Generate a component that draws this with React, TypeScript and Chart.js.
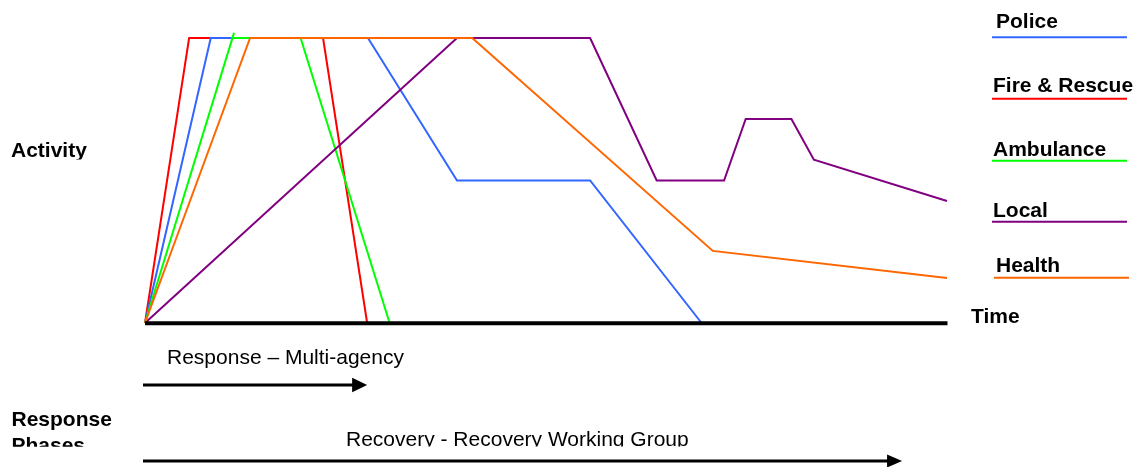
import React, { useEffect, useRef } from "react";
import { Chart, registerables } from "chart.js";

Chart.register(...registerables);

// Time (0-100) and activity (0-100) points per agency
const policeTime = [0, 8.2, 27.8, 38.9, 55.5, 69.4];
const policeActivity = [0, 100, 100, 50, 50, 0];

const fireTime = [0, 5.5, 22.2, 27.7];
const fireActivity = [0, 100, 100, 0];

const ambulanceTime = [0, 11.1, 10.9, 19.4, 30.5];
const ambulanceActivity = [0, 101.8, 100, 100, 0];

const localTime = [0, 38.9, 55.5, 63.8, 72.2, 74.9, 80.6, 83.4, 100];
const localActivity = [0, 100, 100, 50, 50, 71.6, 71.6, 57.3, 42.8];

const healthTime = [0, 13.1, 40.8, 70.8, 100];
const healthActivity = [0, 100, 100, 25.3, 15.8];

const agencyLabels = ["Police", "Fire & Rescue", "Ambulance", "Local", "Health"];
const agencyColors = ["#3366FF", "#FF0000", "#00FF00", "#800080", "#FF6600"];
const drawOrder = [3, 4, 2, 1, 0];

const phaseLabels = ["Response – Multi-agency", "Recovery - Recovery Working Group"];
const phaseEnd = [27.7, 94.4];

const axisTitleY = "Activity";
const axisTitleX = "Time";
const phasesTitle = ["Response", "Phases"];

const pts = (xs: number[], ys: number[]) => xs.map((x, i) => ({ x, y: ys[i] }));

const BOLD = 'bold 21px "Liberation Sans", Arial, sans-serif';
const NORMAL = '21px "Liberation Sans", Arial, sans-serif';

const decorPlugin = {
  id: "decor",
  afterDatasetsDraw(chart: any) {
    const ctx = chart.ctx as CanvasRenderingContext2D;
    const xs = chart.scales.x;
    const ys = chart.scales.y;
    const x0 = xs.getPixelForValue(0);
    const x1 = xs.getPixelForValue(100);
    const yAxis = ys.getPixelForValue(0);
    ctx.save();
    // time axis
    ctx.strokeStyle = "#000";
    ctx.lineWidth = 4;
    ctx.beginPath();
    ctx.moveTo(x0, yAxis + 0.3);
    ctx.lineTo(x1 + 0.5, yAxis + 0.3);
    ctx.stroke();

    // legend on right: label over coloured line
    const legendText = [996, 993, 993, 993, 996];
    const legendBase = [28.3, 92.3, 155.7, 217.3, 272.3];
    const legendLine = [37.3, 98.7, 160.7, 221.7, 277.7];
    const legendLineX = [992, 992, 992, 992, 994];
    ctx.font = BOLD;
    ctx.textBaseline = "alphabetic";
    ctx.textAlign = "left";
    chart.data.datasets.forEach((ds: any, i: number) => {
      ctx.fillStyle = "#000";
      ctx.fillText(ds.label, legendText[i], legendBase[i]);
      ctx.strokeStyle = ds.borderColor;
      ctx.lineWidth = 2;
      ctx.beginPath();
      ctx.moveTo(legendLineX[i], legendLine[i]);
      ctx.lineTo(legendLineX[i] + 135, legendLine[i]);
      ctx.stroke();
    });
    ctx.fillStyle = "#000";
    ctx.fillText(axisTitleX, 971, 323.3);

    // Activity label (bottom slightly clipped)
    ctx.save();
    ctx.beginPath();
    ctx.rect(0, 0, 140, 159.5);
    ctx.clip();
    ctx.fillText(axisTitleY, 11, 157);
    ctx.restore();

    // Phase arrows
    const arrowY = [385, 461];
    const headHalf = [7.3, 6.5];
    const textX = [167, 346];
    const textBase = [364.3, 446];
    phaseLabels.forEach((lab, i) => {
      const tip = xs.getPixelForValue(phaseEnd[i]);
      const start = x0 - 2;
      ctx.strokeStyle = "#000";
      ctx.lineWidth = 3;
      ctx.beginPath();
      ctx.moveTo(start, arrowY[i]);
      ctx.lineTo(tip - 14, arrowY[i]);
      ctx.stroke();
      ctx.fillStyle = "#000";
      ctx.beginPath();
      ctx.moveTo(tip - 15, arrowY[i] - headHalf[i]);
      ctx.lineTo(tip, arrowY[i]);
      ctx.lineTo(tip - 15, arrowY[i] + headHalf[i]);
      ctx.closePath();
      ctx.fill();
      ctx.save();
      ctx.beginPath();
      ctx.rect(0, 0, chart.width, 446.5);
      ctx.clip();
      ctx.font = NORMAL;
      ctx.fillText(lab, textX[i], textBase[i]);
      ctx.restore();
    });

    // Response Phases label (clipped)
    ctx.save();
    ctx.beginPath();
    ctx.rect(0, 0, 140, 446.7);
    ctx.clip();
    ctx.font = BOLD;
    ctx.fillStyle = "#000";
    ctx.fillText(phasesTitle[0], 11.5, 425.7);
    ctx.fillText(phasesTitle[1], 11.5, 452);
    ctx.restore();

    ctx.restore();
  },
};

export default function App() {
  const ref = useRef<HTMLCanvasElement | null>(null);
  useEffect(() => {
    document.body.style.margin = "0";
    const series = [
      pts(policeTime, policeActivity),
      pts(fireTime, fireActivity),
      pts(ambulanceTime, ambulanceActivity),
      pts(localTime, localActivity),
      pts(healthTime, healthActivity),
    ];
    const chart = new Chart(ref.current as HTMLCanvasElement, {
      type: "line",
      data: {
        datasets: series.map((d, i) => ({
          label: agencyLabels[i],
          data: d,
          borderColor: agencyColors[i],
          backgroundColor: agencyColors[i],
          borderWidth: 2,
          pointRadius: 0,
          tension: 0,
          fill: false,
          clip: false as any,
          order: drawOrder[i],
        })),
      },
      options: {
        animation: false,
        responsive: false,
        events: [],
        layout: { padding: { left: 145, right: 191, top: 38, bottom: 144 } },
        scales: {
          x: { type: "linear", min: 0, max: 100, display: false },
          y: { type: "linear", min: 0, max: 100, display: false },
        },
        plugins: { legend: { display: false }, tooltip: { enabled: false } },
      },
      plugins: [decorPlugin],
    });
    return () => chart.destroy();
  }, []);
  return (
    <div style={{ width: 1138, height: 467, background: "#fff" }}>
      <canvas ref={ref} width={1138} height={467} style={{ display: "block" }} />
    </div>
  );
}
